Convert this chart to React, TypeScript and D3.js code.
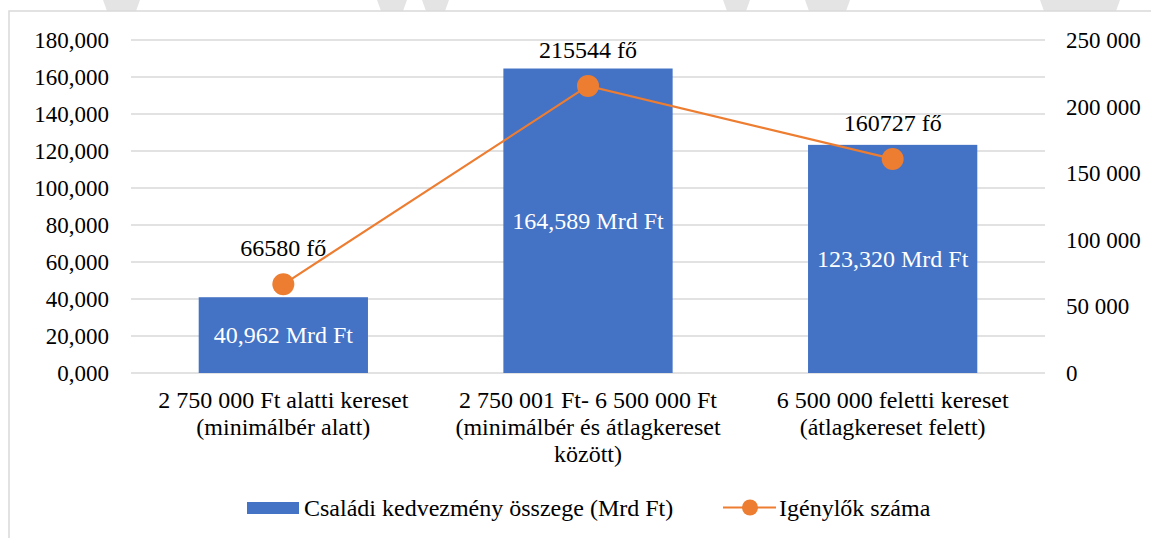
import React from "react";
import * as d3 from "d3";

const categories: string[][] = [
  ["2 750 000 Ft alatti kereset", "(minimálbér alatt)"],
  ["2 750 001 Ft- 6 500 000 Ft", "(minimálbér és átlagkereset", "között)"],
  ["6 500 000 feletti kereset", "(átlagkereset felett)"],
];
const amounts = [40.962, 164.589, 123.32];
const applicants = [66580, 215544, 160727];
const leftTicks = [0, 20, 40, 60, 80, 100, 120, 140, 160, 180];
const rightTicks = [0, 50000, 100000, 150000, 200000, 250000];
const seriesNames = ["Családi kedvezmény összege (Mrd Ft)", "Igénylők száma"];

const W = 1151;
const H = 538;
const BLUE = "#4472C4";
const ORANGE = "#ED7D31";
const GRID = "#d9d9d9";

const loc = d3.formatLocale({ decimal: ",", thousands: " ", grouping: [3], currency: ["", ""] });
const fmtLeft = loc.format(".3f");
const fmtRight = loc.format(",d");

const FAM = "'Liberation Serif', 'Times New Roman', serif";
const T: React.CSSProperties = { fontFamily: FAM, fontSize: "23px" };
const T24: React.CSSProperties = { fontFamily: FAM, fontSize: "24px" };

export default function App() {
  const left = 131, right = 1045, top = 40, bottom = 373;
  const x = d3
    .scaleBand<number>()
    .domain(categories.map((_, i) => i))
    .range([left, right])
    .paddingInner(0.8 / 1.8)
    .paddingOuter(0.4 / 1.8);
  const yL = d3.scaleLinear().domain([0, 180]).range([bottom, top]);
  const yR = d3.scaleLinear().domain([0, 250000]).range([bottom, top]);
  const cx = (i: number) => (x(i) as number) + x.bandwidth() / 2;

  const line = d3
    .line<number>()
    .x((_, i) => cx(i))
    .y((d) => yR(d));

  const watermark = [
    [103, 140], [377, 407], [422, 449], [723, 750], [805, 850], [1040, 1120],
  ];

  return (
    <svg
      width={W}
      height={H}
      style={{ position: "absolute", left: 0, top: 0, background: "#fff" }}
    >
      {watermark.map(([a, b], i) => (
        <polygon
          key={i}
          points={`${a},0 ${b},0 ${b - 4},11 ${a + 4},11`}
          fill="#e4e4e4"
        />
      ))}
      <rect x={9} y={11} width={W + 10} height={H + 10} fill="#fff" stroke={GRID} strokeWidth={1.5} />

      {leftTicks.map((t) => (
        <line key={t} x1={left} x2={right} y1={yL(t)} y2={yL(t)} stroke={GRID} strokeWidth={1.3} />
      ))}

      {leftTicks.map((t) => (
        <text key={t} x={109} y={yL(t) + 8} textAnchor="end" style={T} fill="#000">
          {fmtLeft(t)}
        </text>
      ))}
      {rightTicks.map((t) => (
        <text key={t} x={1066} y={yR(t) + 8} textAnchor="start" style={T} fill="#000">
          {fmtRight(t)}
        </text>
      ))}

      {amounts.map((v, i) => (
        <rect
          key={i}
          x={x(i)}
          y={yL(v)}
          width={x.bandwidth()}
          height={yL(0) - yL(v)}
          fill={BLUE}
        />
      ))}
      {amounts.map((v, i) => (
        <text
          key={i}
          x={cx(i)}
          y={(yL(v) + yL(0)) / 2 + 8}
          textAnchor="middle"
          style={T24}
          fill="#fff"
        >
          {fmtLeft(v) + " Mrd Ft"}
        </text>
      ))}

      <path d={line(applicants) || ""} fill="none" stroke={ORANGE} strokeWidth={2.2} />
      {applicants.map((v, i) => (
        <circle key={i} cx={cx(i)} cy={yR(v)} r={11} fill={ORANGE} />
      ))}
      {applicants.map((v, i) => (
        <text key={i} x={cx(i)} y={yR(v) - 28} textAnchor="middle" style={T24} fill="#000">
          {`${v} fő`}
        </text>
      ))}

      {categories.map((lines, i) =>
        lines.map((l, j) => (
          <text
            key={`${i}-${j}`}
            x={cx(i)}
            y={408 + j * 27}
            textAnchor="middle"
            style={T24}
            fill="#000"
          >
            {l}
          </text>
        ))
      )}

      <rect x={247} y={502} width={52} height={12} fill={BLUE} />
      <text x={304} y={516} style={T24} fill="#000">
        {seriesNames[0]}
      </text>
      <line x1={723} x2={776} y1={507.5} y2={507.5} stroke={ORANGE} strokeWidth={2.2} />
      <circle cx={750} cy={507.5} r={8} fill={ORANGE} />
      <text x={779} y={516} style={T24} fill="#000">
        {seriesNames[1]}
      </text>
    </svg>
  );
}
